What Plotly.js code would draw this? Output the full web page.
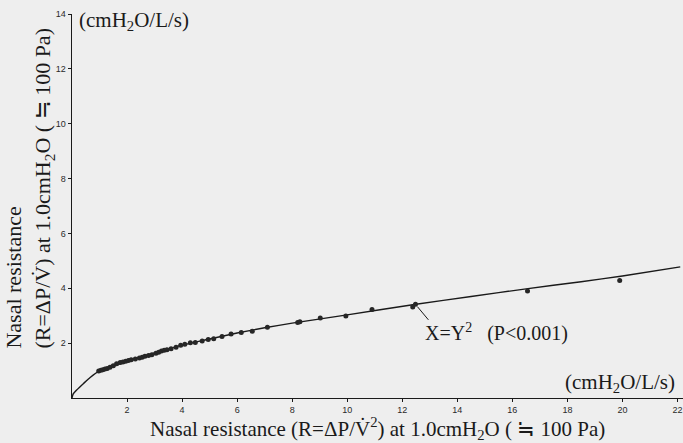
<!DOCTYPE html>
<html>
<head>
<meta charset="utf-8">
<script src="https://cdn.plot.ly/plotly-3.0.1.min.js"></script>
<style>html,body{margin:0;padding:0;background:#eeeeee;}#chart{width:683px;height:443px;}</style>
</head>
<body>
<div id="chart"></div>
<script>
// Measured points: x = R at dP/V^2, y = R at dP/V
const pointsX = [0.97,1.05,1.12,1.2,1.28,1.38,1.5,1.62,1.75,1.85,1.95,2.05,2.15,2.3,2.45,2.55,2.65,2.78,2.9,3.05,3.15,3.25,3.35,3.45,3.6,3.78,3.95,4.1,4.3,4.48,4.73,4.95,5.15,5.45,5.78,6.15,6.55,7.1,8.2,8.28,9.02,9.95,10.9,12.38,12.48,16.55,19.9];
const pointsY = [0.98,1.01,1.03,1.06,1.08,1.12,1.18,1.25,1.29,1.31,1.34,1.37,1.39,1.42,1.46,1.49,1.52,1.55,1.58,1.63,1.67,1.71,1.74,1.76,1.8,1.85,1.92,1.96,2.01,2.02,2.08,2.13,2.16,2.24,2.33,2.39,2.43,2.58,2.75,2.78,2.92,2.99,3.23,3.32,3.42,3.9,4.28];
// Fitted curve X = Y^2
const fitX = [0,0.04,0.17,0.42,0.66,1.0,1.5,2.0,3.0,4.0,5.0,6.0,7.0,8.0,10.0,12.5,14.5,16.5,18.5,20.0,22.1];
const fitY = [0,0.14,0.29,0.53,0.75,0.99,1.15,1.35,1.64,1.93,2.15,2.37,2.56,2.73,3.03,3.42,3.70,3.98,4.24,4.45,4.78];
const xTicks = [2,4,6,8,10,12,14,16,18,20,22];
const yTicks = [2,4,6,8,10,12,14];

const serif = 'Liberation Serif, Times New Roman, serif';
const traces = [
  {x: fitX, y: fitY, type: 'scatter', mode: 'lines', line: {color: '#1a1a1a', width: 1.4, shape: 'spline', smoothing: 0.6}, hoverinfo: 'skip', cliponaxis: false},
  {x: pointsX, y: pointsY, type: 'scatter', mode: 'markers', marker: {color: '#262626', size: 5}}
];
const axisCommon = {showgrid: false, zeroline: false, showline: true, linecolor: '#1a1a1a', linewidth: 1.4,
  ticks: 'outside', ticklen: 3, tickwidth: 1, tickcolor: '#1a1a1a', tickmode: 'array',
  tickfont: {family: 'Liberation Sans, Arial, sans-serif', size: 9, color: '#2a2a2a'}};
const layout = {
  width: 683, height: 443,
  margin: {l: 72, r: 0, t: 14, b: 45},
  paper_bgcolor: '#eeeeee', plot_bgcolor: '#eeeeee',
  showlegend: false,
  xaxis: Object.assign({}, axisCommon, {range: [0, 22.2], tickvals: xTicks}),
  yaxis: Object.assign({}, axisCommon, {range: [0, 14], tickvals: yTicks}),
  shapes: [
    {type: 'line', xref: 'x', yref: 'y', x0: 12.55, y0: 3.33, x1: 12.95, y1: 2.85, line: {color: '#1a1a1a', width: 1}}
  ],
  annotations: [
    {xref: 'paper', yref: 'paper', x: 0.5, y: -0.08, xanchor: 'center', yanchor: 'middle', showarrow: false,
     text: 'Nasal resistance (R=ΔP/V̇<sup>2</sup>) at 1.0cmH<sub>2</sub>O ( ≒ 100 Pa)', font: {family: serif, size: 21, color: '#1a1a1a'}},
    {xref: 'paper', yref: 'paper', x: -0.0704, y: 0.548, xanchor: 'center', yanchor: 'middle', showarrow: false, textangle: -90, align: 'left',
     text: 'Nasal resistance<br>(R=ΔP/V̇) at 1.0cmH<sub>2</sub>O ( ≒ 100 Pa)', font: {family: serif, size: 22, color: '#1a1a1a'}},
    {xref: 'paper', yref: 'paper', x: 0.008, y: 0.982, xanchor: 'left', yanchor: 'middle', showarrow: false,
     text: '(cmH<sub>2</sub>O/L/s)', font: {family: serif, size: 21, color: '#1a1a1a'}},
    {xref: 'paper', yref: 'paper', x: 0.99, y: 0.04, xanchor: 'right', yanchor: 'middle', showarrow: false,
     text: '(cmH<sub>2</sub>O/L/s)', font: {family: serif, size: 21, color: '#1a1a1a'}},
    {xref: 'x', yref: 'y', x: 12.75, y: 2.38, xanchor: 'left', yanchor: 'middle', showarrow: false,
     text: 'X=Y<sup>2</sup>   (P<0.001)', font: {family: serif, size: 20, color: '#1a1a1a'}}
  ]
};
Plotly.newPlot('chart', traces, layout, {displayModeBar: false, staticPlot: true});
</script>
</body>
</html>
